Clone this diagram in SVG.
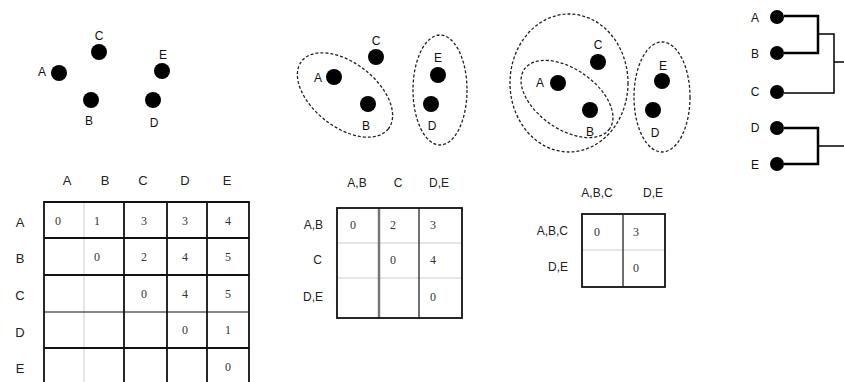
<svg xmlns="http://www.w3.org/2000/svg" width="844" height="382" viewBox="0 0 844 382">
<style>
.lbl{font-family:"Liberation Sans",Arial,sans-serif;font-size:12px;fill:#111;text-anchor:middle;dominant-baseline:central}
.hdr{font-family:"Liberation Sans",Arial,sans-serif;font-size:13px;fill:#222;text-anchor:middle;dominant-baseline:central}
.hdr2{font-family:"Liberation Sans",Arial,sans-serif;font-size:12px;fill:#222;text-anchor:middle;dominant-baseline:central}
.rl{font-family:"Liberation Sans",Arial,sans-serif;font-size:12px;fill:#222;text-anchor:end;dominant-baseline:central}
.val{font-family:"Liberation Serif","Times New Roman",serif;font-size:12px;fill:#333;text-anchor:middle;dominant-baseline:central}
.dot{fill:#000}
.ell{fill:none;stroke:#222;stroke-width:1.3;stroke-dasharray:3 2}
.grid{stroke:#111;stroke-width:1.8;fill:none}
.thin{stroke:#111;stroke-width:1.2;fill:none}
.faint{stroke:#ccc;stroke-width:1;fill:none}
.gray{stroke:#777;stroke-width:2.5;fill:none}
.br1{stroke:#000;stroke-width:2.5;fill:none}
.br2{stroke:#000;stroke-width:1.5;fill:none}
</style>
<rect width="844" height="382" fill="#fff"/>

<!-- Panel 1: points -->
<g id="p1-A"><circle class="dot" cx="59" cy="73" r="8"/><text class="lbl" x="42" y="72">A</text></g>
<g id="p1-C"><circle class="dot" cx="99" cy="52" r="8"/><text class="lbl" x="99" y="36">C</text></g>
<g id="p1-E"><circle class="dot" cx="162" cy="71" r="8"/><text class="lbl" x="163" y="55">E</text></g>
<g id="p1-B"><circle class="dot" cx="91" cy="100" r="8"/><text class="lbl" x="89" y="121">B</text></g>
<g id="p1-D"><circle class="dot" cx="153" cy="100" r="8"/><text class="lbl" x="154" y="123">D</text></g>

<!-- Panel 2 -->
<g id="p2-cluster-AB"><ellipse class="ell" cx="345" cy="95" rx="55" ry="32" transform="rotate(38 345 95)"/></g>
<g id="p2-cluster-DE"><ellipse class="ell" cx="440" cy="90" rx="27" ry="55"/></g>
<g id="p2-A"><circle class="dot" cx="334" cy="77" r="8"/><text class="lbl" x="318" y="78">A</text></g>
<g id="p2-C"><circle class="dot" cx="376" cy="57" r="8"/><text class="lbl" x="376" y="41">C</text></g>
<g id="p2-B"><circle class="dot" cx="368" cy="104" r="8"/><text class="lbl" x="366" y="126">B</text></g>
<g id="p2-E"><circle class="dot" cx="438" cy="75" r="8"/><text class="lbl" x="438" y="58">E</text></g>
<g id="p2-D"><circle class="dot" cx="431" cy="104" r="8"/><text class="lbl" x="432" y="126">D</text></g>

<!-- Panel 3 -->
<g id="p3-cluster-ABC"><ellipse class="ell" cx="569" cy="83" rx="59" ry="69"/></g>
<g id="p3-cluster-AB"><ellipse class="ell" cx="567" cy="99" rx="52" ry="30" transform="rotate(35 567 99)"/></g>
<g id="p3-cluster-DE"><ellipse class="ell" cx="662" cy="97" rx="28" ry="55"/></g>
<g id="p3-A"><circle class="dot" cx="558" cy="83" r="8"/><text class="lbl" x="540" y="83">A</text></g>
<g id="p3-C"><circle class="dot" cx="598" cy="62" r="8"/><text class="lbl" x="598" y="45">C</text></g>
<g id="p3-B"><circle class="dot" cx="590" cy="110" r="8"/><text class="lbl" x="590" y="132">B</text></g>
<g id="p3-E"><circle class="dot" cx="662" cy="81" r="8"/><text class="lbl" x="663" y="66">E</text></g>
<g id="p3-D"><circle class="dot" cx="653" cy="110" r="8"/><text class="lbl" x="655" y="133">D</text></g>

<!-- Dendrogram leaves -->
<g id="d-A"><circle class="dot" cx="777" cy="17" r="7"/><text class="lbl" x="755" y="18">A</text></g>
<g id="d-B"><circle class="dot" cx="777" cy="53" r="7"/><text class="lbl" x="755" y="54">B</text></g>
<g id="d-C"><circle class="dot" cx="777" cy="92" r="7"/><text class="lbl" x="755" y="92">C</text></g>
<g id="d-D"><circle class="dot" cx="777" cy="128" r="7"/><text class="lbl" x="755" y="128">D</text></g>
<g id="d-E"><circle class="dot" cx="777" cy="164" r="7"/><text class="lbl" x="755" y="165">E</text></g>

<g id="connectors">
<path class="br1" d="M784 16 H818 V53 H784"/>
<path class="br2" d="M818 34 H834 V93 H784"/>
<path class="br2" d="M834 62 H844"/>
<path class="br1" d="M784 128 H818 V164 H784"/>
<path class="br2" d="M818 146 H844"/>
</g>

<!-- Matrix 1 -->
<g id="matrix1">
<text class="hdr" x="67" y="180">A</text>
<text class="hdr" x="105" y="180">B</text>
<text class="hdr" x="143" y="180">C</text>
<text class="hdr" x="185" y="180">D</text>
<text class="hdr" x="227" y="180">E</text>
<text class="hdr" x="20" y="222">A</text>
<text class="hdr" x="20" y="258">B</text>
<text class="hdr" x="20" y="295">C</text>
<text class="hdr" x="20" y="332">D</text>
<text class="hdr" x="20" y="368">E</text>
<path class="faint" d="M84 202 V382"/>
<path class="grid" d="M44 390 V202 H249 V390"/>
<path class="grid" d="M124 202 V390 M167 202 V390 M207 202 V390"/>
<path class="grid" d="M44 238 H249 M44 275 H249 M44 348 H249"/>
<path class="thin" d="M44 312 H249"/>
<text class="val" x="58" y="221">0</text>
<text class="val" x="97" y="221">1</text>
<text class="val" x="144" y="221">3</text>
<text class="val" x="185" y="221">3</text>
<text class="val" x="228" y="221">4</text>
<text class="val" x="97" y="257">0</text>
<text class="val" x="144" y="257">2</text>
<text class="val" x="185" y="257">4</text>
<text class="val" x="228" y="257">5</text>
<text class="val" x="144" y="294">0</text>
<text class="val" x="185" y="294">4</text>
<text class="val" x="228" y="294">5</text>
<text class="val" x="185" y="330">0</text>
<text class="val" x="228" y="330">1</text>
<text class="val" x="228" y="367">0</text>
</g>

<!-- Matrix 2 -->
<g id="matrix2">
<text class="hdr2" x="357" y="183">A,B</text>
<text class="hdr2" x="398" y="183">C</text>
<text class="hdr2" x="439" y="183">D,E</text>
<text class="rl" x="323" y="225">A,B</text>
<text class="rl" x="322" y="260">C</text>
<text class="rl" x="323" y="297">D,E</text>
<path class="faint" d="M337 243 H462 M337 278 H462"/>
<path class="gray" d="M379 208 V318"/>
<path class="thin" d="M419 208 V318"/>
<rect class="grid" x="337" y="208" width="125" height="110"/>
<text class="val" x="353" y="225">0</text>
<text class="val" x="393" y="225">2</text>
<text class="val" x="433" y="225">3</text>
<text class="val" x="393" y="260">0</text>
<text class="val" x="433" y="260">4</text>
<text class="val" x="433" y="297">0</text>
</g>

<!-- Matrix 3 -->
<g id="matrix3">
<text class="hdr2" x="597" y="193">A,B,C</text>
<text class="hdr2" x="653" y="193">D,E</text>
<text class="rl" x="568" y="231">A,B,C</text>
<text class="rl" x="568" y="267">D,E</text>
<path class="faint" d="M582 250 H665"/>
<path class="thin" d="M623 214 V287"/>
<rect class="grid" x="582" y="214" width="83" height="73"/>
<text class="val" x="597" y="232">0</text>
<text class="val" x="636" y="232">3</text>
<text class="val" x="636" y="268">0</text>
</g>
</svg>
